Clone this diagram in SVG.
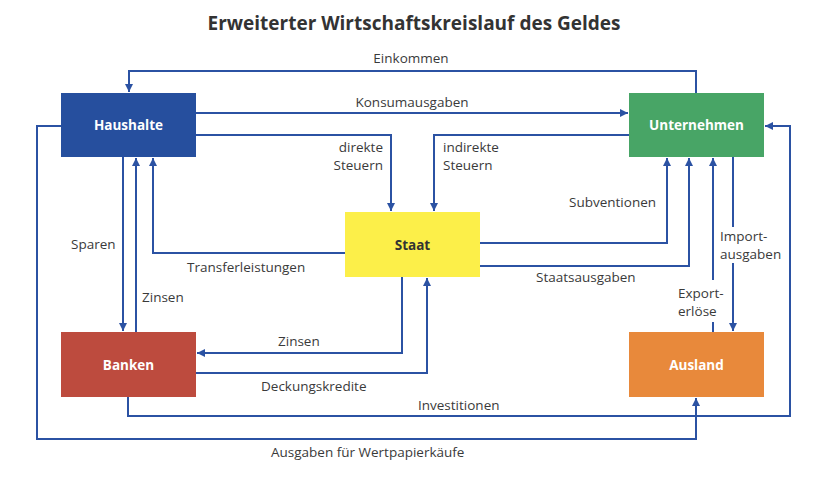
<svg xmlns="http://www.w3.org/2000/svg" width="831" height="479" viewBox="0 0 831 479">
<defs>
<marker id="arr" viewBox="0 0 10 10" refX="10" refY="5" markerWidth="10" markerHeight="8" markerUnits="userSpaceOnUse" orient="auto">
<path d="M0,0 L10,5 L0,10 z" fill="#2b52a3"/>
</marker>
<style>
.bg{fill:#ffffff}
.title{font-family:"Open Sans","Liberation Sans",sans-serif;font-weight:700;font-size:19px;fill:#333333}
.lbl{font-family:"Open Sans","Liberation Sans",sans-serif;font-size:13.5px;fill:#3a3a3a}
.nl{font-family:"Open Sans","Liberation Sans",sans-serif;font-weight:700;font-size:13.5px;text-anchor:middle}
.c{fill:none;stroke:#2b52a3;stroke-width:2}
.a{marker-end:url(#arr)}
</style>
</defs>
<rect class="bg" x="0" y="0" width="831" height="479"/>
<text class="title" x="414" y="30" text-anchor="middle">Erweiterter Wirtschaftskreislauf des Geldes</text>

<g id="connectors">
<path id="c-einkommen" class="c a" d="M696,93 V71 H129 V92"/>
<path id="c-konsum" class="c a" d="M196,113 H628"/>
<path id="c-dsteuern" class="c a" d="M196,135 H391 V211"/>
<path id="c-isteuern" class="c a" d="M629,135 H434 V211"/>
<path id="c-transfer" class="c a" d="M345,253 H153 V158"/>
<path id="c-sparen" class="c a" d="M123,157 V331"/>
<path id="c-zinsen1" class="c a" d="M136,332 V158"/>
<path id="c-wertpapier" class="c a" d="M61,126 H37 V439 H696 V398"/>
<path id="c-invest" class="c a" d="M128,397 V416 H790 V126 H765"/>
<path id="c-subv" class="c a" d="M480,243 H667 V158"/>
<path id="c-staatsausg" class="c a" d="M480,266 H689 V158"/>
<path id="c-export1" class="c" d="M713,332 V322"/>
<path id="c-export2" class="c a" d="M713,280 V158"/>
<path id="c-import1" class="c" d="M733,157 V227"/>
<path id="c-import2" class="c a" d="M733,263 V331"/>
<path id="c-zinsen2" class="c a" d="M402,277 V353 H197"/>
<path id="c-deckung" class="c a" d="M196,373 H427 V278"/>
</g>

<g id="node-haushalte">
<rect x="61" y="93" width="135" height="64" fill="#264f9e"/>
<text class="nl" x="128.5" y="130" fill="#ffffff">Haushalte</text>
</g>
<g id="node-unternehmen">
<rect x="629" y="93" width="135" height="64" fill="#48a566"/>
<text class="nl" x="696.5" y="130" fill="#ffffff">Unternehmen</text>
</g>
<g id="node-staat">
<rect x="345" y="212" width="135" height="65" fill="#fcef49"/>
<text class="nl" x="412.5" y="249.5" fill="#333333">Staat</text>
</g>
<g id="node-banken">
<rect x="61" y="332" width="135" height="65" fill="#bd4b3e"/>
<text class="nl" x="128.5" y="369.5" fill="#ffffff">Banken</text>
</g>
<g id="node-ausland">
<rect x="629" y="332" width="135" height="65" fill="#e8893b"/>
<text class="nl" x="696.5" y="369.5" fill="#ffffff">Ausland</text>
</g>

<g id="labels">
<text class="lbl" x="411" y="63" text-anchor="middle">Einkommen</text>
<text class="lbl" x="412" y="107" text-anchor="middle">Konsumausgaben</text>
<text class="lbl" x="383" y="152" text-anchor="end">direkte</text>
<text class="lbl" x="383" y="170" text-anchor="end">Steuern</text>
<text class="lbl" x="443" y="152">indirekte</text>
<text class="lbl" x="443" y="170">Steuern</text>
<text class="lbl" x="569" y="207">Subventionen</text>
<text class="lbl" x="187" y="272">Transferleistungen</text>
<text class="lbl" x="71" y="249">Sparen</text>
<text class="lbl" x="142" y="302">Zinsen</text>
<text class="lbl" x="278" y="346">Zinsen</text>
<text class="lbl" x="261" y="391">Deckungskredite</text>
<text class="lbl" x="418" y="410">Investitionen</text>
<text class="lbl" x="271" y="457">Ausgaben für Wertpapierkäufe</text>
<text class="lbl" x="536" y="282">Staatsausgaben</text>
<text class="lbl" x="678" y="298">Export-</text>
<text class="lbl" x="678" y="316">erlöse</text>
<text class="lbl" x="720" y="241">Import-</text>
<text class="lbl" x="720" y="259">ausgaben</text>
</g>
</svg>
